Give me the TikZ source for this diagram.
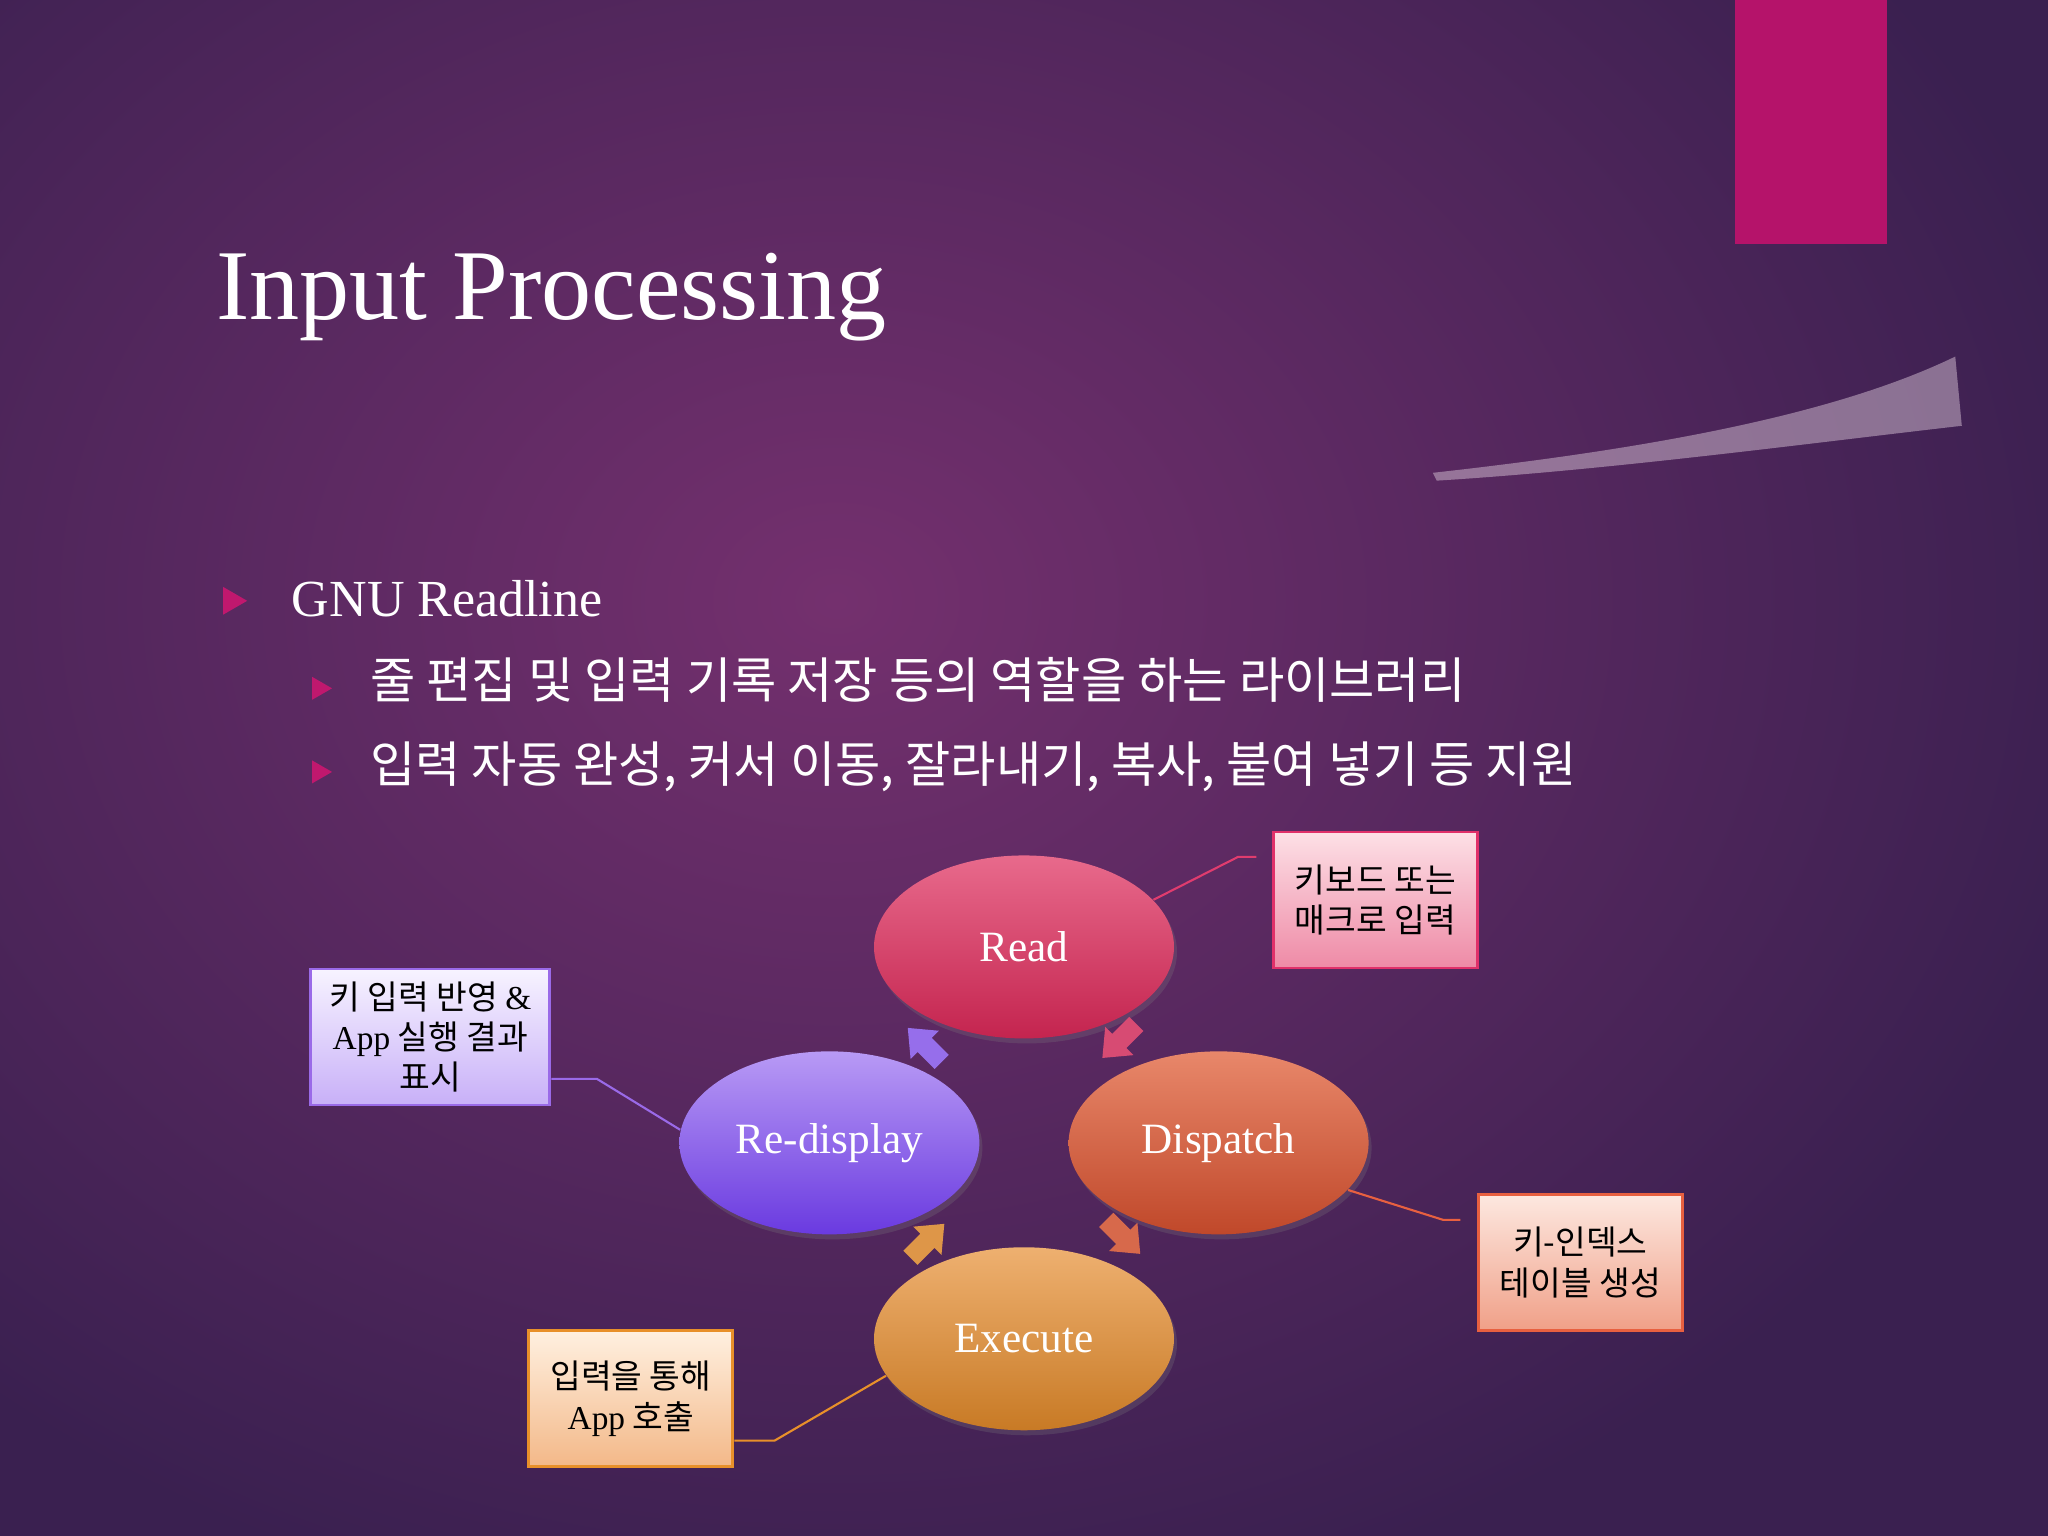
\documentclass[tikz,border=0pt]{standalone}
\usepackage{fontspec}
\setmainfont{Liberation Serif}
\newfontfamily\cjk{Noto Sans CJK KR}
\usetikzlibrary{shapes.geometric,shadows}
\definecolor{bgdark}{HTML}{3A2050}
\definecolor{bglight}{HTML}{74306E}
\definecolor{mag}{HTML}{B5136A}
\definecolor{bul}{HTML}{C0186E}
\tikzset{
  stage/.style={ellipse, minimum width=3.0cm, minimum height=1.83cm, text=white, font=\fontsize{12.3}{14}\selectfont, drop shadow={opacity=0.25, shadow xshift=0.03cm, shadow yshift=-0.05cm}},
  callout/.style={draw, line width=0.8pt, minimum width=2.04cm, minimum height=1.36cm, align=center, text=black, font=\fontsize{9.5}{11.5}\selectfont\cjk},
  lead/.style={line width=0.6pt},
  bulletmark/.style={fill=bul, isosceles triangle, isosceles triangle apex angle=60, inner sep=0pt, minimum height=0.24cm},
  cycarrow/.pic={\path[pic actions] (-0.24,-0.1)--(0.0,-0.1)--(0.0,-0.2)--(0.24,0)--(0.0,0.2)--(0.0,0.1)--(-0.24,0.1)--cycle;},
}
\begin{document}
\begin{tikzpicture}[x=0.013061cm,y=-0.013061cm]
\useasboundingbox (0,0) rectangle (1568,1176);
\fill[bgdark] (0,0) rectangle (1568,1176);
\begin{scope}
\clip (0,0) rectangle (1568,1176);
\shade[inner color=bglight, outer color=bgdark] (640,460) ellipse [x radius=1000, y radius=800];
\end{scope}
% decorations
\fill[mag] (1328,0) rectangle (1445,187);
\fill[white!70!bglight, opacity=0.5] (1097,362) .. controls (1250,345) and (1400,320) .. (1497,273) -- (1502,326) .. controls (1380,340) and (1230,360) .. (1100,368) -- cycle;
% title
\node[anchor=base west, text=white, font=\fontsize{28.5}{30}\selectfont, inner sep=0pt] (title) at (165,245) {Input Processing};
% bullets
\node[bulletmark] (b1) at (177,460) {};
\node[anchor=base west, text=white, font=\fontsize{14.8}{16}\selectfont, inner sep=0pt] (t1) at (223,472) {GNU Readline};
\node[bulletmark, minimum height=0.2cm] (b2) at (244,527) {};
\node[anchor=base west, text=white, font=\fontsize{14}{16}\selectfont\cjk, inner sep=0pt] (t2) at (283,535) {줄 편집 및 입력 기록 저장 등의 역할을 하는 라이브러리};
\node[bulletmark, minimum height=0.2cm] (b3) at (244,591) {};
\node[anchor=base west, text=white, font=\fontsize{14}{16}\selectfont\cjk, inner sep=0pt] (t3) at (283,599) {입력 자동 완성, 커서 이동, 잘라내기, 복사, 붙여 넣기 등 지원};
% stages
\node[stage, top color={rgb,255:red,232;green,106;blue,140}, bottom color={rgb,255:red,196;green,36;blue,79}] (read) at (784,725) {Read};
\node[stage, top color={rgb,255:red,184;green,154;blue,245}, bottom color={rgb,255:red,106;green,58;blue,224}] (redisp) at (635,875) {Re-display};
\node[stage, top color={rgb,255:red,232;green,135;blue,106}, bottom color={rgb,255:red,192;green,72;blue,42}] (disp) at (933,875) {Dispatch};
\node[stage, top color={rgb,255:red,238;green,176;blue,112}, bottom color={rgb,255:red,200;green,122;blue,37}] (exec) at (784,1025) {Execute};
% cycle arrows
\coordinate (a1) at (708,800); \coordinate (a2) at (857,797);
\coordinate (a3) at (860,947); \coordinate (a4) at (710,950);
\pic[rotate=135, fill={rgb,255:red,150;green,110;blue,235}, x=1cm, y=1cm] at (a1) {cycarrow};
\pic[rotate=225, fill={rgb,255:red,215;green,75;blue,115}, x=1cm, y=1cm] at (a2) {cycarrow};
\pic[rotate=-45, fill={rgb,255:red,215;green,105;blue,75}, x=1cm, y=1cm] at (a3) {cycarrow};
\pic[rotate=45, fill={rgb,255:red,222;green,150;blue,72}, x=1cm, y=1cm] at (a4) {cycarrow};
% callouts
\node[callout, draw={rgb,255:red,224;green,48;blue,106}, top color={rgb,255:red,253;green,224;blue,230}, bottom color={rgb,255:red,238;green,138;blue,166}] (cr) at (1053,689) {키보드 또는\\매크로 입력};
\node[callout, minimum width=2.39cm, draw={rgb,255:red,154;green,106;blue,232}, top color={rgb,255:red,247;green,243;blue,255}, bottom color={rgb,255:red,200;green,176;blue,248}] (cd) at (329.5,794) {키 입력 반영 {\rmfamily\&}\\{\rmfamily App} 실행 결과\\표시};
\node[callout, draw={rgb,255:red,232;green,96;blue,64}, top color={rgb,255:red,253;green,232;blue,224}, bottom color={rgb,255:red,240;green,160;blue,136}] (cp) at (1210,966.5) {키-인덱스\\테이블 생성};
\node[callout, draw={rgb,255:red,232;green,144;blue,42}, top color={rgb,255:red,255;green,240;blue,224}, bottom color={rgb,255:red,243;green,184;blue,136}] (ce) at (483,1071) {입력을 통해\\{\rmfamily App} 호출};
% leader lines
\coordinate (lr1) at (948,656); \coordinate (lr2) at (962,656);
\draw[lead, draw={rgb,255:red,224;green,60;blue,110}] (read.20) -- (lr1) -- (lr2);
\draw[lead, draw={rgb,255:red,154;green,106;blue,232}] (cd.east |- 0,826) -- (457,826) -- (redisp.175);
\coordinate (lp1) at (1105,934); \coordinate (lp2) at (1118,934);
\draw[lead, draw={rgb,255:red,232;green,96;blue,64}] (disp.-20) -- (lp1) -- (lp2);
\draw[lead, draw={rgb,255:red,232;green,144;blue,42}] (ce.east |- 0,1103) -- (593,1103) -- (exec.195);
\end{tikzpicture}
\end{document}
